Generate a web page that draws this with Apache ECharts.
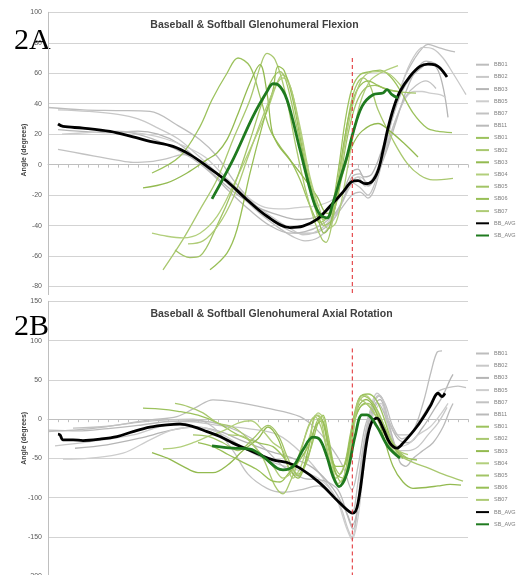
<!DOCTYPE html>
<html><head><meta charset="utf-8">
<script src="https://cdn.jsdelivr.net/npm/echarts@6/dist/echarts.min.js"></script>
<style>
html,body{margin:0;padding:0;background:#fff;overflow:hidden;width:516px;height:575px;}
#wa{position:absolute;left:0;top:0;width:516px;height:295px;overflow:hidden;background:#fff;}
#ca{width:516px;height:330px;}
#wb{position:absolute;left:0;top:295px;width:516px;height:280px;overflow:hidden;background:#fff;}
#cb{width:516px;height:290px;}
</style></head><body>
<div id="wa"><div id="ca"></div></div>
<div id="wb"><div id="cb"></div></div>
<script>
// ---------- DATA ----------
const seriesNames = ['BB01','BB02','BB03','BB05','BB07','BB11','SB01','SB02','SB03','SB04','SB05','SB06','SB07','BB_AVG','SB_AVG'];
const timeTicks = [0, 42];              // normalised time index range (no labels shown)
const yTicksA = [-100,-80,-60,-40,-20,0,20,40,60,80,100];
const yTicksB = [-200,-150,-100,-50,0,50,100,150];
const releaseT = 30.43;                 // dashed marker time
const releaseA = [70,-100];
const releaseB = [90,-200];

// Panel A: Glenohumeral Flexion [time, angle]
const bb01A = [[0,37.5],[3.5,36],[6.8,35.5],[10.2,35],[12.9,26],[15.2,16.4],[16.9,5.5],[18.5,-9.8],[20.2,-23],[21.9,-34],[23.5,-41],[25,-45],[26.5,-45],[28,-40],[29.2,-30],[30.4,-20],[31.2,-18],[32,-22],[32.7,-15],[33.7,10],[34.7,38],[35.7,58],[36.7,70],[37.5,77],[38,79],[39,77],[40,75],[40.7,74]];
const bb02A = [[1,36],[4,35],[7,33],[9,30],[11,24],[13,17],[15,6],[17,-6],[19,-18],[21,-28],[23,-37],[24.5,-43],[25.5,-46],[26.5,-45],[27.7,-40],[29,-30],[30.4,-12],[31,-8],[31.7,-14],[32.5,-10],[33.5,8],[34.5,32],[35.5,55],[36.5,70],[37.5,77],[38.5,76],[39.5,70],[40.5,60],[41.8,46]];
const bb03A = [[1,23],[3,22],[6,21],[9,22],[11,20],[13,14],[15,3],[17,-9],[19,-20],[21,-28],[23,-33],[25,-36],[26.5,-35],[28,-30],[29.3,-20],[30.4,-5],[31,-3],[31.6,-8],[32.4,-6],[33.4,10],[34.4,30],[35.4,48],[36.4,58],[37.4,64],[38.2,67],[39,62],[39.6,48],[40,31]];
const bb05A = [[1.4,20],[4,21],[7,22],[9.7,20],[11.7,17],[13.7,12],[15.7,5],[17.7,-8],[19.7,-20],[21.7,-28],[23.7,-29],[25.2,-28],[26.8,-27],[28.2,-24],[29.4,-18],[30.4,-10],[31.2,-8],[32,-12],[32.8,-5],[33.8,12],[34.8,30],[35.8,44],[36.6,48],[37.4,48],[38.2,47],[39.2,46],[39.8,44]];
const bb07A = [[1,10],[3.5,7],[6.9,3],[8.5,1.5],[10.2,2],[11.9,4],[13.5,6.6],[15.2,3],[17.2,-8],[19.2,-20],[21.2,-32],[23.2,-42],[24.7,-48],[25.7,-50],[27,-48],[28.2,-40],[29.4,-25],[30.4,-12],[31.2,-15],[32,-20],[32.8,-10],[33.8,10],[34.8,30],[35.8,45],[36.8,52],[37.8,55],[38.8,50]];
const bb11A = [[5.2,22],[8.2,21],[11.2,15],[14.2,5],[16.2,-5],[18.2,-18],[20.2,-30],[22.2,-40],[24.2,-45],[25.7,-44],[27.2,-40],[28.7,-32],[29.7,-20],[30.4,-8],[31.2,-6],[32,-14],[32.8,-8],[33.8,8],[34.8,28],[35.8,48],[36.8,62],[37.8,68],[38.8,66],[39.6,60]];
const sb01A = [[10.4,-5.5],[13.2,5.5],[15.2,25],[16.4,42.6],[17.9,60],[19,70],[20.2,64.5],[21.2,44.8],[22.2,23],[23.2,12],[24.2,3.3],[25.2,-9.8],[26.2,-27],[27.2,-38],[28.2,-32],[29,-5],[29.7,28],[30.4,50],[31.2,59],[32.2,61],[33.2,62],[34.2,58],[35.2,49],[36.5,34],[37.9,24],[38.9,22],[40.4,21]];
const sb02A = [[11.5,-69],[13.5,-49],[15.2,-29.5],[16.9,-9.8],[18.5,16.4],[20.2,42.6],[21.3,66],[21.9,73],[22.7,69],[23.7,48],[24.7,15],[25.7,-15],[26.7,-38],[27.4,-49],[27.8,-51],[28.5,-35],[29.2,-5],[30,30],[30.7,50],[31.5,57],[32.2,52],[33,36],[34.5,16],[35.9,1],[37.2,-7],[38.5,-10],[40.5,-9]];
const sb03A = [[9.5,-15.3],[11.9,-12],[13.9,-5.5],[15.9,3.3],[16.9,7.7],[17.9,16.4],[18.9,31.7],[20.2,53.6],[21.2,65.6],[21.9,47],[22.4,22],[23,13],[23.9,5.5],[25.2,-5.3],[26.9,-20.8],[27.9,-32],[28.6,-30],[29.4,-8],[30.4,12],[31.4,22],[33,27],[34.2,22],[35.6,14],[37,5]];
const sb04A = [[10.4,-45],[11.9,-47],[13.5,-48],[15.2,-45],[16.9,-34],[18.5,-14],[20.2,10],[21.9,35],[23,55],[23.5,59],[24.2,52],[25.2,25],[26.2,-8],[27.2,-30],[28,-42],[28.8,-38],[29.6,-15],[30.4,15],[31.2,40],[32.2,55],[33.2,60],[34.2,63],[35,65]];
const sb05A = [[12.7,-56],[14.2,-61],[15.2,-60],[16.9,-40],[18.5,-16],[20.2,16],[21.9,49],[23.2,61],[23.8,55],[24.7,30],[25.7,0],[26.7,-25],[27.6,-40],[28.4,-36],[29.2,-10],[30,20],[30.8,40],[31.7,50],[32.7,52],[33.7,50],[35,48],[36.8,47]];
const sb06A = [[16.2,-69],[17.9,-58],[18.9,-42.6],[20.2,-5.5],[21.5,27.3],[22.5,49],[23,64.5],[23.6,62],[24.4,45],[25.3,15],[26.2,-15],[27,-35],[27.6,-45],[28.2,-40],[28.9,-15],[29.6,15],[30.3,38],[31,50],[32,55],[33,52],[34,49],[35,48]];
const sb07A = [[14,-52],[15.5,-50],[17,-40],[18.5,-22],[20,5],[21.5,32],[22.8,52],[23.5,57],[24.3,50],[25.2,22],[26,-5],[26.8,-25],[27.5,-36],[28.3,-33],[29,-12],[29.8,18],[30.5,40],[31.3,55],[32,60],[33,61],[34,60],[35.5,50]];
const bbAvgA = [[1,26.7],[1.5,25.1],[3.5,24],[6.2,21.8],[8.5,18.2],[10.2,15.3],[12.5,12],[14.2,6.6],[15.9,-1.1],[17.9,-10.9],[19.9,-23],[21.9,-33.9],[24.2,-41.3],[25.5,-40.4],[26.9,-36],[28.2,-27.3],[29.5,-18],[30.4,-11],[31,-10.5],[31.7,-12.5],[32.4,-11],[33,-4],[33.5,9],[34,24],[34.6,38],[35.2,48],[36.2,58],[37.2,64.5],[38,66],[38.7,65.5],[39.2,63.4],[39.9,57.5]];
const sbAvgA = [[16.4,-22.5],[18.5,3.3],[20.5,31.7],[21.9,48],[22.5,53.1],[23,52.5],[23.9,42.6],[25.2,9.8],[26.5,-23],[27.2,-32.8],[27.9,-35],[28.5,-25],[29.2,-9.8],[29.9,5.5],[30.5,20.8],[31.4,38.2],[32.5,45.9],[33.5,47],[33.9,49.2],[34.4,45.9],[35,43.7]];

// Panel B: Glenohumeral Axial Rotation [time, angle]
const bb01B = [[0,-15.8],[2.5,-14],[5.9,-9.4],[10.2,-0.9],[12.9,3.3],[14.8,15],[16.5,24.6],[18.5,22.4],[21.9,14],[25.2,3.3],[26.9,-13.6],[28.5,-39],[29.5,-60.3],[30.4,-90],[31,-60],[31.7,-10],[32.4,15],[33,30],[33.7,20],[34.5,-10],[35.4,-25],[36.5,-15],[37.5,20],[38.3,60],[38.9,85],[39.4,87]];
const bb02B = [[0.7,-34],[4.2,-28.5],[8.5,-20],[11.2,-9.4],[14,-3],[17,-8],[20,-12],[23,-20],[25.5,-45],[27.5,-75],[29.2,-110],[30,-140],[30.4,-150],[30.8,-130],[31.5,-40],[32.2,10],[32.9,33],[33.5,25],[34.2,-10],[35,-40],[36,-40],[37,-35],[38,-20],[39,-5],[39.9,15]];
const bb03B = [[2.7,-37],[5.9,-32.7],[9.2,-24.2],[12,-15],[14.5,-10],[17,-15],[19.5,-28],[22,-40],[24.5,-50],[26.5,-62],[28.5,-88],[29.9,-120],[30.4,-135],[31,-110],[31.7,-30],[32.5,15],[33.2,25],[34,0],[35,-25],[36,-30],[37.5,-10],[38.5,10],[39.5,30],[40.2,50],[40.5,57]];
const bb05B = [[1.5,-50.9],[4.2,-49.6],[7.5,-43.3],[10.2,-26.3],[12.5,-13.6],[15,-10],[17.5,-20],[20,-40],[22.5,-55],[25,-65],[27,-75],[28.7,-98],[29.9,-140],[30.4,-153],[31,-125],[31.7,-50],[32.5,5],[33.3,20],[34,-10],[35,-35],[36,-32],[37,-20],[38.2,-10],[39.2,5],[40,20]];
const bb07B = [[2.5,-11.5],[6,-9],[9,-4],[12,-1],[14.5,0],[16.5,-10],[18.5,-40],[20,-70],[21.9,-88],[23.5,-93],[25.2,-90],[27,-85],[28.8,-100],[30,-115],[30.4,-120],[31,-80],[31.7,-20],[32.5,20],[33.2,30],[34,0],[35,-20],[36,-20],[37,-5],[38,15],[39,35],[40,40],[41,42],[41.8,40]];
const bb11B = [[0,-14],[3,-15],[6,-12],[9,-8],[12,-3],[15,-2],[18,-10],[21,-30],[23.5,-60],[25.5,-75],[27.5,-78],[29,-90],[30,-125],[30.5,-140],[31,-110],[31.8,-30],[32.5,10],[33,20],[33.7,5],[34.5,-25],[35.2,-55],[35.8,-60],[36.5,-50],[37.5,-40],[38.5,-30],[39.5,-10],[40.2,12],[40.5,20]];
const sb01B = [[9.5,14],[11,13],[13,10],[15,5],[17,-5],[19,-20],[21,-30],[22.5,-35],[24,-55],[25,-70],[26.2,-40],[27,-5],[27.5,5],[28,-20],[28.7,-65],[29.3,-80],[30,-50],[30.6,0],[31.2,28],[32,32],[32.8,25],[33.5,5],[34.3,-25],[35.2,-45],[36,-50],[36.9,-52]];
const sb02B = [[12.7,20],[14,16],[15.5,8],[17,-5],[18.5,-10],[20,-25],[21.5,-50],[22.7,-85],[23.5,-95],[24.2,-80],[25,-55],[26,-10],[26.7,3],[27.3,-10],[28,-45],[28.8,-75],[29.6,-60],[30.4,-10],[31.2,15],[32,20],[33,5],[34,-30],[35,-45],[36.5,-55],[38,-62],[39.5,-70],[41.5,-79]];
const sb03B = [[10.4,-42.5],[12,-50],[13.5,-60],[15,-68],[16.5,-68],[18,-58],[19.5,-40],[21,-25],[22,-10],[23,-25],[24,-60],[25,-75],[26,-40],[26.8,5],[27.4,0],[28.1,-40],[28.8,-70],[29.5,-75],[30.2,-30],[31,15],[31.8,25],[32.6,15],[33.5,-20],[34.5,-60],[35.5,-80],[36.5,-88],[37.8,-87],[39,-85],[40.2,-83],[41.3,-84]];
const sb04B = [[11.5,-38],[13,-36],[14.5,-30],[16,-22],[17.5,-15],[19,-5],[20.3,-2],[21.5,-15],[22.5,-30],[23.5,-40],[24.5,-75],[25.3,-60],[26.2,-20],[27,8],[27.6,0],[28.3,-50],[29,-82],[29.7,-70],[30.4,-25],[31.1,22],[31.8,30],[32.5,20],[33.5,-5],[34.5,-30],[35.4,-45]];
const sb05B = [[14.5,-20],[16,-22],[17.5,-30],[19,-40],[20.5,-25],[22,-8],[23,-20],[24,-50],[25,-72],[26,-50],[26.7,-10],[27.2,2],[27.8,-15],[28.5,-55],[29.2,-70],[30,-40],[30.6,5],[31.4,30],[32.2,25],[33,10],[34,-20],[35,-40],[36,-50]];
const sb06B = [[15,-30],[16.5,-35],[18,-45],[19.5,-55],[21,-65],[22.3,-78],[23.2,-80],[24,-70],[25,-55],[26,-35],[26.8,-8],[27.4,-2],[28,-30],[28.8,-60],[29.5,-60],[30.3,-20],[31,10],[31.7,20],[32.5,10],[33.5,-15],[34.5,-35],[35.5,-50]];
const sb07B = [[18,-20],[19.5,-22],[21,-40],[22.5,-60],[23.5,-75],[24.5,-65],[25.5,-30],[26.4,0],[27,5],[27.7,-25],[28.5,-70],[29.2,-85],[29.8,-75],[30.5,-20],[31.2,25],[32,18],[33,0],[34,-25],[35,-40],[36,-45]];
const bbAvgB = [[1,-19.1],[1.2,-20],[1.5,-26.3],[2.5,-26.3],[3.5,-27.2],[5.2,-25.4],[6.9,-22.1],[8.5,-15.8],[10.2,-10.2],[11.9,-7.3],[13.2,-6.4],[14.5,-9.4],[15.9,-15.8],[17.2,-22.1],[18.5,-30.5],[19.9,-38.2],[21.2,-45.4],[22.5,-51.8],[23.9,-55.2],[25.2,-62.3],[27.2,-81.4],[29.2,-106.9],[30.5,-119.6],[31,-107],[31.9,-26.3],[32.4,-3],[32.9,1.3],[33.5,-11.5],[34.2,-30.5],[34.9,-36.9],[35.5,-30.5],[36.9,-9.4],[38.2,16],[39,33],[39.4,28.8],[39.7,33]];
const sbAvgB = [[16.4,-34],[18.5,-36.9],[20.2,-38],[21.5,-47.6],[22.9,-62.3],[23.5,-64.5],[24.5,-60.3],[25.5,-39],[26.5,-22.9],[27.2,-26.3],[27.9,-48],[28.5,-73],[29.1,-85.8],[29.9,-68.7],[30.7,-22.1],[31.4,5.5],[31.9,5.5],[32.9,-9.4],[34,-34.9],[35.2,-49.6]];

// ---------- STYLE ----------
const colors = ['#bdbdbd','#c8c8c8','#b5b5b5','#cdcdcd','#c2c2c2','#bababa',
  '#9cc25d','#a9c86f','#93ba50','#b2cf7c','#a2c466','#98bf56','#aecb75',
  '#000000','#1f7a1f'];
const widths = [1.3,1.3,1.3,1.3,1.3,1.3,1.3,1.3,1.3,1.3,1.3,1.3,1.3,2.8,2.8];

function buildOption(p){
  const series = p.data.map((d,i)=>({
    type:'line', name:seriesNames[i], data:d, symbol:'none', smooth:0.35,
    lineStyle:{color:colors[i], width:widths[i]}, itemStyle:{color:colors[i], opacity:0},
    z: i>=13 ? 5 : 3, silent:true
  }));
  series.push({type:'line', name:'release', data:[[releaseT,p.rel[0]],[releaseT,p.rel[1]]],
    symbol:'none', lineStyle:{color:'#e0262b', width:1, type:[4,3]}, z:6, silent:true});
  const yt = p.yt;
  return {
    animation:false,
    textStyle:{fontFamily:'Liberation Sans'},
    grid:{left:48, right:48, top:p.gridTop, bottom:p.gridBottom},
    xAxis:{type:'value', min:timeTicks[0], max:timeTicks[1], interval:1,
      axisLine:{onZero:true, lineStyle:{color:'#bfbfbf'}},
      axisTick:{show:true, length:3, lineStyle:{color:'#bfbfbf'}},
      axisLabel:{show:false}, splitLine:{show:false}},
    yAxis:{type:'value', min:yt[0], max:yt[yt.length-1], interval:yt[1]-yt[0],
      axisLine:{show:true, lineStyle:{color:'#bfbfbf'}}, axisTick:{show:false},
      axisLabel:{fontSize:7, color:'#595959', margin:6, fontFamily:'Liberation Sans'},
      splitLine:{lineStyle:{color:'#d3d3d3', width:1}}},
    legend:{orient:'vertical', left:475, top:p.legendTop, padding:0, data:seriesNames,
      itemWidth:13, itemHeight:8, itemGap:5.8, selectedMode:false,
      itemStyle:{opacity:0},
      textStyle:{fontSize:5.5, color:'#7f7f7f', fontFamily:'Liberation Sans'}},
    graphic:[
      {type:'text', style:{text:p.title, x:p.titleX, y:p.titleY, align:'center', verticalAlign:'middle',
        font:'bold 10.5px "Liberation Sans"', fill:'#404040'}},
      {type:'text', style:{text:p.tag, x:14, y:p.tagY, verticalAlign:'middle',
        font:'30px "Liberation Serif"', fill:'#000'}},
      {type:'text', x:24, y:p.nameY, rotation:Math.PI/2, style:{text:'Angle (degrees)', align:'center', verticalAlign:'middle',
        font:'bold 7px "Liberation Sans"', fill:'#404040'}}
    ],
    series
  };
}

const chartA = echarts.init(document.getElementById('ca'), null, {renderer:'canvas'});
chartA.setOption(buildOption({
  data:[bb01A,bb02A,bb03A,bb05A,bb07A,bb11A,sb01A,sb02A,sb03A,sb04A,sb05A,sb06A,sb07A,bbAvgA,sbAvgA],
  rel:releaseA, yt:yTicksA, gridTop:12.3, gridBottom:13, legendTop:61.5,
  title:'Baseball & Softball Glenohumeral Flexion', titleX:254.5, titleY:24.7,
  tag:'2A', tagY:41, nameY:150
}));
const chartB = echarts.init(document.getElementById('cb'), null, {renderer:'canvas'});
chartB.setOption(buildOption({
  data:[bb01B,bb02B,bb03B,bb05B,bb07B,bb11B,sb01B,sb02B,sb03B,sb04B,sb05B,sb06B,sb07B,bbAvgB,sbAvgB],
  rel:releaseB, yt:yTicksB, gridTop:6.3, gridBottom:8.7, legendTop:55.3,
  title:'Baseball & Softball Glenohumeral Axial Rotation', titleX:271.5, titleY:18.7,
  tag:'2B', tagY:31.7, nameY:143.3
}));
</script>
</body></html>
